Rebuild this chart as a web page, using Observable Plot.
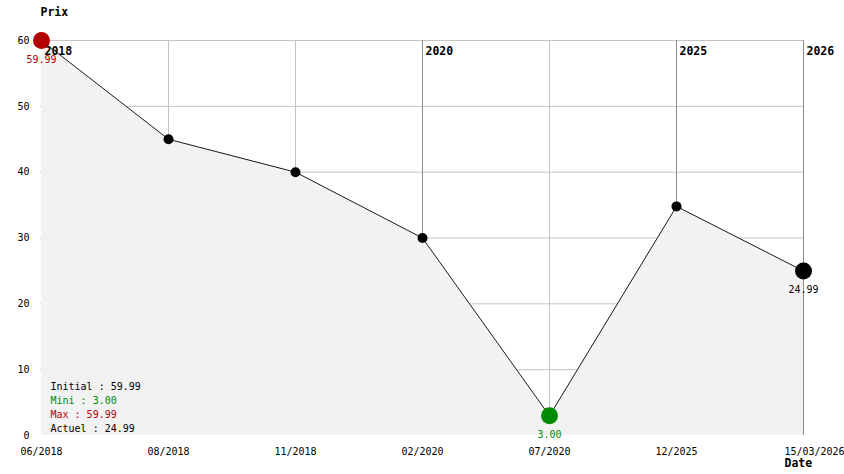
<!DOCTYPE html>
<html>
<head>
<meta charset="utf-8">
<script src="https://cdn.jsdelivr.net/npm/d3@7"></script>
<script src="https://cdn.jsdelivr.net/npm/@observablehq/plot@0.6"></script>
<style>
  html, body { margin: 0; padding: 0; background: #fff; }
</style>
</head>
<body>
<div id="chart"></div>
<script>
const dates = ["06/2018", "08/2018", "11/2018", "02/2020", "07/2020", "12/2025", "15/03/2026"];
const prices = [59.99, 45, 40, 30, 3.00, 34.8, 24.99];
const yearDates = ["06/2018", "02/2020", "12/2025", "15/03/2026"];
const yearLabels = ["2018", "2020", "2025", "2026"];
const yTicks = [0, 10, 20, 30, 40, 50, 60];

const RED = "#b40000";
const GREEN = "#008c00";

const data = dates.map((d, i) => ({date: d, price: prices[i]}));
const years = yearDates.map((d, i) => ({date: d, year: yearLabels[i]}));

const initial = prices[0];
const minV = d3.min(prices);
const maxV = d3.max(prices);
const last = prices[prices.length - 1];
const minRow = data.find(d => d.price === minV);
const maxRow = data.find(d => d.price === maxV);
const lastRow = data[data.length - 1];

const fmt = v => v.toFixed(2);
const mono = "'DejaVu Sans Mono', monospace";

const chart = Plot.plot({
  width: 844,
  height: 474,
  marginLeft: 40,
  marginRight: 40,
  marginTop: 40,
  marginBottom: 39,
  style: {fontFamily: mono, fontSize: "10px", background: "#fff", overflow: "visible"},
  x: {type: "point", domain: dates, padding: 0},
  y: {domain: [0, 60]},
  marks: [
    Plot.ruleY(yTicks.filter(t => t > 0), {stroke: "#c4c4c4", strokeWidth: 1}),
    Plot.ruleX(dates, {stroke: "#c4c4c4", strokeWidth: 1}),
    Plot.ruleX(yearDates, {stroke: "#8c8c8c", strokeWidth: 1}),
    Plot.areaY(data, {x: "date", y: "price", fill: "#f2f2f2"}),
    Plot.text(years, {x: "date", text: "year", frameAnchor: "top", lineAnchor: "middle", dy: 11, dx: 3, textAnchor: "start", fontWeight: "bold", fontSize: 11.5, fill: "#000"}),
    Plot.lineY(data, {x: "date", y: "price", stroke: "#1a1a1a", strokeWidth: 1}),
    Plot.dot(data, {x: "date", y: "price", r: 5, fill: "#000", stroke: "none"}),
    Plot.dot([lastRow], {x: "date", y: "price", r: 8.5, fill: "#000", stroke: "none"}),
    Plot.dot([minRow], {x: "date", y: "price", r: 8.5, fill: GREEN, stroke: "none"}),
    Plot.dot([maxRow], {x: "date", y: "price", r: 8.5, fill: RED, stroke: "none"}),
    Plot.text([maxRow], {x: "date", y: "price", text: d => fmt(d.price), dy: 19, fill: RED, fontSize: 10}),
    Plot.text([minRow], {x: "date", y: "price", text: d => fmt(d.price), dy: 19, fill: GREEN, fontSize: 10}),
    Plot.text([lastRow], {x: "date", y: "price", text: d => fmt(d.price), dy: 19, fill: "#000", fontSize: 10}),
    Plot.axisY({ticks: yTicks, tickSize: 0, tickPadding: 11, label: null, fontSize: 10}),
    Plot.axisX(dates.slice(0, -1), {tickSize: 0, tickPadding: 12, label: null, fontSize: 10}),
    Plot.axisX(dates.slice(-1), {tickSize: 0, tickPadding: 12, label: null, fontSize: 10, dx: 11}),
    Plot.text(["Prix"], {frameAnchor: "top-left", lineAnchor: "middle", textAnchor: "start", dy: -28, fontWeight: "bold", fontSize: 11.5, fill: "#000"}),
    Plot.text(["Date"], {frameAnchor: "bottom-right", lineAnchor: "middle", textAnchor: "start", dx: -20, dy: 28, fontWeight: "bold", fontSize: 11.5, fill: "#000"}),
    Plot.text([`Initial : ${fmt(initial)}`], {frameAnchor: "bottom-left", lineAnchor: "middle", textAnchor: "start", dx: 10, dy: -49, fill: "#000", fontSize: 10}),
    Plot.text([`Mini : ${fmt(minV)}`], {frameAnchor: "bottom-left", lineAnchor: "middle", textAnchor: "start", dx: 10, dy: -35, fill: GREEN, fontSize: 10}),
    Plot.text([`Max : ${fmt(maxV)}`], {frameAnchor: "bottom-left", lineAnchor: "middle", textAnchor: "start", dx: 10, dy: -21, fill: RED, fontSize: 10}),
    Plot.text([`Actuel : ${fmt(last)}`], {frameAnchor: "bottom-left", lineAnchor: "middle", textAnchor: "start", dx: 10, dy: -7, fill: "#000", fontSize: 10})
  ]
});
document.getElementById("chart").appendChild(chart);
</script>
</body>
</html>
